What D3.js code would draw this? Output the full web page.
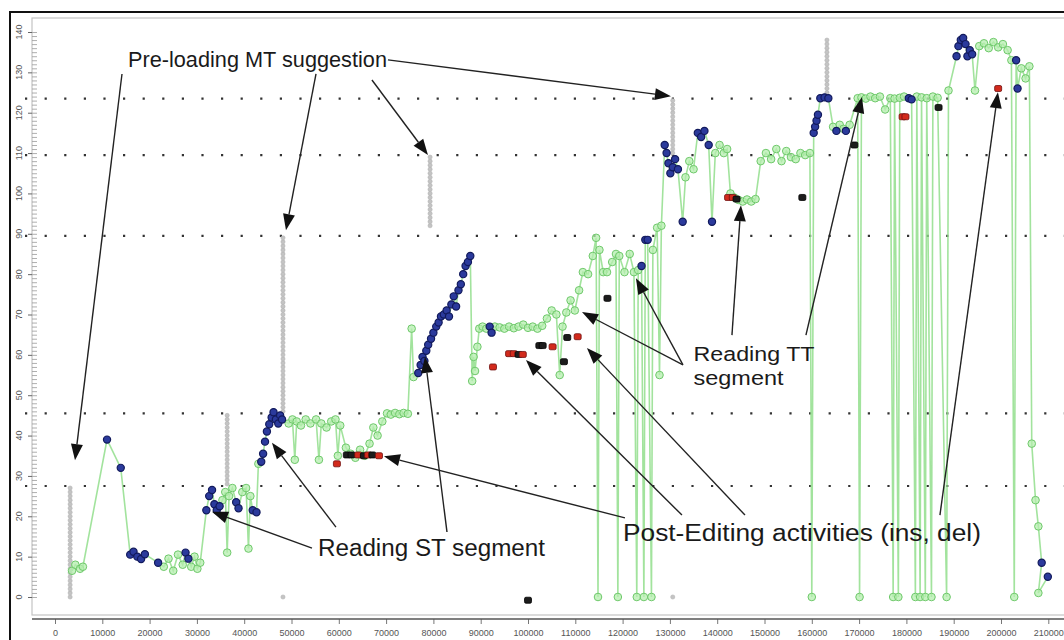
<!DOCTYPE html>
<html>
<head>
<meta charset="utf-8">
<script src="https://cdn.jsdelivr.net/npm/d3@7"></script>
<style>
  html, body { margin: 0; padding: 0; background: #fff; }
  svg { display: block; }
</style>
</head>
<body>
<svg id="chart" width="1064" height="640"></svg>
<script>
// ---- Axes ----
const xTickValues = [0, 10000, 20000, 30000, 40000, 50000, 60000, 70000, 80000, 90000, 100000,
  110000, 120000, 130000, 140000, 150000, 160000, 170000, 180000, 190000, 200000, 210000];
const yTickValues = [0, 10, 20, 30, 40, 50, 60, 70, 80, 90, 100, 110, 120, 130, 140];

// Segment boundaries (character offsets in the source text)
const segmentBounds = [27.5, 45.5, 89.5, 109.5, 123.5];

// MT suggestion pre-loading: [time ms, first char, last char]
const mtLoads = [
  [3200, 0, 27], [36400, 28, 45], [48200, 46, 89], [79300, 92, 109],
  [130600, 110, 123], [163200, 125, 138], [48200, 0, 0], [130600, 0, 0]
];

// Gaze path: [time ms, char offset, window]  S = source text, T = target text
const gazePath = [
  [3600, 6.5, 'T'], [4300, 8, 'T'], [5300, 7, 'T'], [5900, 7.5, 'T'],
  [11000, 39, 'S'], [13900, 32, 'S'],
  [15900, 10.5, 'S'], [16600, 11.2, 'S'], [17400, 10, 'S'], [18200, 9.4, 'S'], [19000, 10.6, 'S'],
  [21800, 8.5, 'S'], [23000, 7.5, 'T'], [24000, 9.5, 'T'], [25000, 6.5, 'T'], [26000, 10.5, 'T'],
  [27000, 8, 'T'], [27600, 11, 'S'], [28200, 9.5, 'S'], [28800, 7.5, 'T'], [29500, 10, 'T'],
  [30100, 7, 'T'], [30700, 8.5, 'T'],
  [32000, 21.5, 'S'], [32600, 25, 'S'], [33200, 26.5, 'S'], [33700, 23, 'S'], [34200, 21.5, 'S'],
  [34800, 22.5, 'S'], [35400, 24, 'T'], [36000, 26, 'T'], [36400, 11, 'T'], [36800, 25, 'T'],
  [37500, 27, 'T'], [38300, 23.5, 'S'], [38800, 22, 'S'], [39600, 26, 'T'], [40400, 27, 'T'],
  [40900, 12, 'T'], [41300, 25, 'T'], [41800, 21.5, 'S'], [42600, 21, 'S'], [43000, 33, 'T'],
  [43600, 33.5, 'S'], [44000, 35.5, 'S'], [44400, 38.5, 'S'], [44800, 41, 'S'], [45300, 42.8, 'S'],
  [45800, 44.5, 'S'], [46200, 45.8, 'S'], [46700, 44, 'S'], [47200, 43, 'S'], [47600, 45, 'S'],
  [48000, 44, 'S'],
  [49400, 43, 'T'], [50200, 44, 'T'], [50700, 34, 'T'], [51100, 43.5, 'T'], [52000, 42.5, 'T'],
  [53000, 44, 'T'], [54000, 43, 'T'], [55200, 44, 'T'], [55800, 34, 'T'], [56300, 43, 'T'],
  [57400, 42, 'T'], [58400, 43.5, 'T'], [59300, 44, 'T'], [59800, 35, 'T'], [60300, 42.5, 'T'],
  [61500, 37, 'T'], [62500, 35.5, 'T'], [63500, 34.5, 'T'], [64500, 36.5, 'T'], [65500, 35, 'T'],
  [66500, 38, 'T'], [67300, 42, 'T'], [68200, 40, 'T'], [69200, 43.5, 'T'],
  [70200, 45.5, 'T'], [71000, 45.2, 'T'], [71900, 45.6, 'T'], [72800, 45.3, 'T'], [73700, 45.6, 'T'],
  [74600, 45.4, 'T'], [75400, 66.5, 'T'], [75800, 54.5, 'T'],
  [76800, 55.5, 'S'], [77300, 57.5, 'S'], [77700, 59.5, 'S'], [78100, 58.5, 'S'], [78500, 61, 'S'],
  [78900, 62.5, 'S'], [79500, 64, 'S'], [80000, 65.5, 'S'], [80600, 67, 'S'], [81100, 68, 'S'],
  [81600, 69.5, 'S'], [82200, 70, 'S'], [82800, 71, 'S'], [83300, 69.5, 'S'], [83800, 72.5, 'S'],
  [84300, 74.5, 'S'], [84800, 72, 'S'], [85300, 76, 'S'], [85800, 77.5, 'S'], [86300, 80, 'S'],
  [86800, 82, 'S'], [87300, 83, 'S'], [87800, 84.5, 'S'],
  [88200, 53.5, 'T'], [88500, 59.5, 'T'], [88800, 56, 'T'], [89300, 62, 'T'], [89700, 66.5, 'T'],
  [90400, 67, 'T'], [91200, 66.5, 'T'], [91900, 67, 'S'], [92300, 65.5, 'S'], [93000, 67, 'T'],
  [94000, 66.8, 'T'], [95000, 66.5, 'T'], [96000, 67, 'T'], [97000, 66.6, 'T'], [98000, 67, 'T'],
  [99000, 67.5, 'T'], [100000, 66.7, 'T'], [101000, 67, 'T'], [102000, 66.5, 'T'], [103000, 67.2, 'T'],
  [104000, 69, 'T'], [105000, 71, 'T'], [106000, 70, 'T'], [106700, 55, 'T'], [107300, 67, 'T'],
  [108100, 70.5, 'T'], [109000, 73.5, 'T'], [109900, 71, 'T'], [110800, 76, 'T'], [111600, 80.5, 'T'],
  [112700, 80, 'T'], [113700, 84.5, 'T'], [114400, 89, 'T'], [114800, 0, 'T'], [115100, 86, 'T'],
  [115900, 80.5, 'T'], [116700, 80.5, 'T'], [117800, 83, 'T'], [118600, 85, 'T'], [119000, 0, 'T'],
  [119300, 84.5, 'T'], [120400, 80.5, 'T'], [121500, 85, 'T'], [122400, 80.5, 'T'], [123000, 0, 'T'],
  [123300, 81, 'T'], [124000, 82, 'S'], [124500, 0, 'T'], [124800, 88.5, 'S'], [125300, 88.5, 'S'],
  [126100, 0, 'T'], [126400, 86, 'T'], [127300, 91.5, 'T'], [127800, 55, 'T'], [128200, 92, 'T'],
  [128900, 112, 'S'], [129300, 110, 'S'], [129700, 107.5, 'S'], [130100, 105, 'S'], [130600, 106.5, 'S'],
  [131100, 108.5, 'S'], [131700, 106, 'S'], [132700, 93, 'S'], [133300, 104, 'T'], [134100, 108, 'T'],
  [135000, 106, 'T'], [135900, 115, 'S'], [136600, 114, 'S'], [137300, 115.5, 'S'], [138200, 112, 'S'],
  [138900, 93, 'S'], [139600, 110, 'T'], [140500, 112, 'T'], [141400, 110, 'T'], [142100, 111, 'T'],
  [142800, 100, 'T'], [143600, 99, 'T'], [144500, 98.4, 'T'], [145400, 98, 'T'], [146300, 98.5, 'T'],
  [147200, 98, 'T'], [148100, 98.6, 'T'], [149200, 108, 'T'], [150300, 110, 'T'], [151400, 108.5, 'T'],
  [152500, 111, 'T'], [153600, 108, 'T'], [154600, 110.5, 'T'], [155600, 109, 'T'], [156600, 108.5, 'T'],
  [157600, 110, 'T'], [158600, 109.5, 'T'], [159600, 110, 'T'], [160000, 0, 'T'],
  [160400, 115, 'S'], [160700, 116.5, 'S'], [161000, 118, 'S'], [161300, 119.5, 'S'], [161800, 123.6, 'S'],
  [162700, 123.8, 'S'], [163500, 123.6, 'S'], [164500, 116.5, 'T'], [165200, 115.5, 'S'], [165900, 117, 'T'],
  [166700, 116, 'T'], [167200, 115.5, 'S'], [168000, 117, 'T'], [169700, 123.6, 'T'], [170100, 0, 'T'],
  [170500, 123.8, 'T'], [171400, 123.5, 'T'], [172400, 124, 'T'], [173400, 123.6, 'T'], [174400, 124, 'T'],
  [175500, 120.8, 'T'], [176600, 123.6, 'T'], [177200, 0, 'T'], [177500, 123.5, 'T'], [178300, 0, 'T'],
  [178600, 123.7, 'T'], [179500, 124, 'T'], [180500, 123.6, 'S'], [181100, 123.3, 'S'], [181900, 0, 'T'],
  [182200, 124, 'T'], [182900, 0, 'T'], [183200, 123.8, 'T'], [184000, 0, 'T'], [184300, 123.6, 'T'],
  [185300, 0, 'T'], [185600, 124, 'T'], [186600, 123.7, 'T'], [188500, 0, 'T'], [188900, 125.5, 'T'],
  [190600, 134, 'S'], [191000, 136.5, 'S'], [191500, 138, 'S'], [192000, 138.5, 'S'], [192500, 137, 'S'],
  [192900, 134, 'S'], [193400, 135.5, 'S'], [193900, 134.5, 'S'], [194500, 125.5, 'T'],
  [195400, 136.5, 'T'], [196400, 137.2, 'T'], [197400, 136, 'T'], [198400, 137.5, 'T'], [199400, 136.2, 'T'],
  [200400, 137, 'T'], [201400, 135.5, 'T'], [202200, 133, 'T'], [202800, 0, 'T'], [203200, 133, 'S'],
  [203500, 126, 'S'], [204300, 131, 'T'], [205200, 128.5, 'T'], [206000, 131.5, 'T'], [206500, 38, 'T'],
  [207300, 24, 'T'], [207900, 17.5, 'T'], [208600, 8.5, 'S'], [207900, 1, 'T'], [209900, 5, 'S']
];

// Keystrokes: [time ms, char offset, kind]
const keyEdits = [
  [59600, 33, 'del'],
  [61700, 35.2, 'ins'], [62700, 35.2, 'ins'], [64100, 35.2, 'del'], [65300, 35, 'ins'],
  [66200, 35.2, 'del'], [67100, 35.2, 'ins'], [68500, 35, 'del'],
  [92600, 57, 'del'],
  [96000, 60.3, 'del'], [97000, 60.3, 'del'], [98000, 60.1, 'ins'], [98900, 60.1, 'del'],
  [102400, 62.3, 'ins'], [103100, 62.3, 'ins'], [105200, 62, 'del'],
  [107600, 58.3, 'ins'], [108300, 64.3, 'ins'], [110500, 64.5, 'del'],
  [116800, 74, 'ins'],
  [142300, 99, 'del'], [143300, 99, 'del'], [144100, 98.6, 'ins'],
  [158000, 99, 'ins'], [169000, 112, 'ins'],
  [179200, 119, 'del'], [179800, 119, 'del'], [186800, 121.3, 'ins'],
  [199400, 126, 'del'],
  [100000, -0.8, 'ins']
];

// Annotations: label lines anchored at [time, offset]
const labels = [
  { lines: ['Pre-loading MT suggestion'], at: [15430, 131.3], size: 22, widths: [259] },
  { lines: ['Reading ST segment'], at: [55600, 10.2], size: 23, widths: [227] },
  { lines: ['Post-Editing activities (ins, del)'], at: [120080, 13.9], size: 23, widths: [358] },
  { lines: ['Reading TT', 'segment'], at: [135000, 58.4], size: 20.5, widths: [121, 90] }
];
// Arrows: [from, to] in [time, offset]
const arrows = [
  [[14160, 129.6], [4230, 33.9]],
  [[55180, 129.6], [48830, 90.9]],
  [[67010, 128.1], [78850, 109.5]],
  [[70400, 133.1], [130220, 124.1]],
  [[54330, 12.1], [33190, 21.1]],
  [[59400, 17.3], [45870, 38.2]],
  [[82870, 16.1], [78220, 59.5]],
  [[120500, 19.6], [69550, 34.9]],
  [[132550, 20.3], [99570, 58.7]],
  [[145870, 20.3], [112460, 61.7]],
  [[187090, 20.3], [199350, 125.1]],
  [[132760, 57.5], [111410, 70.6]],
  [[132760, 57.5], [122820, 79.0]],
  [[143120, 64.9], [145020, 97.1]],
  [[158760, 64.9], [170600, 123.9]]
];

// ---- Drawing ----
const svg = d3.select('#chart');
const x = d3.scaleLinear().domain([0, 210000]).range([55, 1048.3]);
const y = d3.scaleLinear().domain([0, 140]).range([597, 32]);
const font = '"Liberation Sans", Arial, Helvetica, sans-serif';

svg.append('rect').attr('width', 1064).attr('height', 640).attr('fill', '#fff');
// outer frame
svg.append('rect').attr('x', 10).attr('y', 12).attr('width', 1100).attr('height', 700)
  .attr('fill', 'none').attr('stroke', '#111').attr('stroke-width', 2);
// plot box
svg.append('rect').attr('x', 32).attr('y', 18).attr('width', 1100).attr('height', 597)
  .attr('fill', 'none').attr('stroke', '#c4c4c4').attr('stroke-width', 1.2);

// x axis
const xAxis = svg.append('g').attr('transform', 'translate(0,619)')
  .call(d3.axisBottom(x).tickValues(xTickValues).tickSize(5).tickPadding(6).tickFormat(d3.format('d')));
xAxis.select('.domain').remove();
xAxis.append('line').attr('x1', 32).attr('x2', 1064).attr('stroke', '#555').attr('stroke-width', 1.5);
xAxis.selectAll('.tick line').attr('stroke', '#777');
xAxis.selectAll('.tick text').attr('fill', '#555').style('font', `9px ${font}`);

// y axis: minor ticks to the right, major ticks + rotated labels on the left
const yAxis = svg.append('g').attr('transform', 'translate(32,0)');
yAxis.call(d3.axisRight(y).tickValues(d3.range(0, 141, 1)).tickSize(5).tickFormat(''));
yAxis.select('.domain').remove();
yAxis.selectAll('.tick line').attr('stroke', '#9a9a9a').attr('stroke-width', 0.8);
const yMajor = svg.append('g').attr('transform', 'translate(32,0)')
  .call(d3.axisLeft(y).tickValues(yTickValues).tickSize(4).tickFormat(''));
yMajor.select('.domain').remove();
yMajor.selectAll('.tick line').attr('stroke', '#666');
svg.append('g').selectAll('text').data(yTickValues).join('text')
  .attr('transform', d => `translate(19,${y(d)}) rotate(-90)`)
  .attr('text-anchor', 'middle').attr('dominant-baseline', 'central')
  .attr('fill', '#555').style('font', `9px ${font}`)
  .text(d => d);

// segment boundaries
svg.append('g').selectAll('line').data(segmentBounds).join('line')
  .attr('x1', 25).attr('x2', 1064)
  .attr('y1', d => y(d)).attr('y2', d => y(d))
  .attr('stroke', '#333').attr('stroke-width', 2.2)
  .attr('stroke-dasharray', '2.2 17.4');

// MT pre-loading: one gray dot per loaded character
const mtDots = mtLoads.flatMap(([t, a, b]) => d3.range(a, b + 1).map(p => [t, p]));
svg.append('g').selectAll('circle').data(mtDots).join('circle')
  .attr('cx', d => x(d[0])).attr('cy', d => y(d[1])).attr('r', 2.1)
  .attr('fill', '#c4c4c4').attr('stroke', '#adadad').attr('stroke-width', 0.5);

// gaze path
svg.append('path').datum(gazePath)
  .attr('d', d3.line().x(d => x(d[0])).y(d => y(d[1])))
  .attr('fill', 'none').attr('stroke', '#92de8c').attr('stroke-width', 1.6)
  .attr('stroke-opacity', 0.85);

// target-text fixations
svg.append('g').selectAll('circle').data(gazePath.filter(d => d[2] === 'T')).join('circle')
  .attr('cx', d => x(d[0])).attr('cy', d => y(d[1])).attr('r', 3.8)
  .attr('fill', '#b4eeae').attr('fill-opacity', 0.75)
  .attr('stroke', '#6fc96b').attr('stroke-width', 1);

// source-text fixations
svg.append('g').selectAll('circle').data(gazePath.filter(d => d[2] === 'S')).join('circle')
  .attr('cx', d => x(d[0])).attr('cy', d => y(d[1])).attr('r', 3.6)
  .attr('fill', '#2b3a9c').attr('stroke', '#121a5c').attr('stroke-width', 1.2);

// keystrokes
svg.append('g').selectAll('rect').data(keyEdits).join('rect')
  .attr('x', d => x(d[0]) - 3.5).attr('y', d => y(d[1]) - 3)
  .attr('width', 7).attr('height', 6).attr('rx', 1.5)
  .attr('fill', d => d[2] === 'del' ? '#d22a1c' : '#1c1c1c')
  .attr('stroke', d => d[2] === 'del' ? '#701010' : '#000').attr('stroke-width', 0.8);

// arrows
const arrowG = svg.append('g');
arrows.forEach(([from, to]) => {
  const x0 = x(from[0]), y0 = y(from[1]), x1 = x(to[0]), y1 = y(to[1]);
  const ang = Math.atan2(y1 - y0, x1 - x0);
  const len = 16, half = 6;
  const bx = x1 - len * Math.cos(ang), by = y1 - len * Math.sin(ang);
  arrowG.append('line').attr('x1', x0).attr('y1', y0).attr('x2', bx).attr('y2', by)
    .attr('stroke', '#222').attr('stroke-width', 1.4);
  const px = -Math.sin(ang) * half, py = Math.cos(ang) * half;
  arrowG.append('path')
    .attr('d', `M${x1},${y1}L${bx + px},${by + py}L${bx - px},${by - py}Z`)
    .attr('fill', '#111');
});

// labels
const labelText = svg.append('g').selectAll('text').data(labels).join('text')
  .attr('x', d => x(d.at[0])).attr('y', d => y(d.at[1]))
  .attr('fill', '#1a1a1a')
  .style('font', d => `${d.size}px ${font}`);
labelText.each(function (d) {
  const t = d3.select(this);
  d.lines.forEach((line, i) => {
    t.append('tspan').attr('x', x(d.at[0])).attr('dy', i === 0 ? 0 : 23.5)
      .attr('textLength', d.widths[i]).attr('lengthAdjust', 'spacingAndGlyphs')
      .text(line);
  });
});
</script>
</body>
</html>
